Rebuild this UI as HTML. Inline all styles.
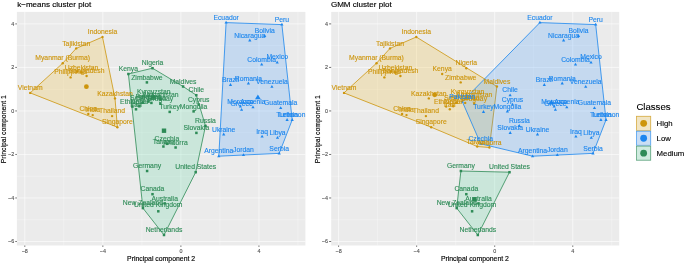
<!DOCTYPE html>
<html lang="en"><head><meta charset="utf-8"><title>Cluster plots</title>
<style>html,body{margin:0;padding:0;background:#fff}svg{display:block}</style></head>
<body>
<svg width="685" height="263" viewBox="0 0 685 263" font-family="'Liberation Sans', Arial, Helvetica, sans-serif">
<rect width="685" height="263" fill="#fff"/>
<g transform="translate(0,0)">
<text x="17.2" y="6.9" font-size="8.05" fill="#000" stroke="#000" stroke-width="0.15">k−means cluster plot</text>
<rect x="16.9" y="11.9" width="288.5" height="233.6" fill="#EBEBEB"/>
<clipPath id="cpa"><rect x="16.9" y="11.9" width="288.5" height="233.6"/></clipPath>
<g><path d="M63.83 11.9V245.5" stroke="#fff" stroke-width="0.3"/><path d="M141.88 11.9V245.5" stroke="#fff" stroke-width="0.3"/><path d="M219.93 11.9V245.5" stroke="#fff" stroke-width="0.3"/><path d="M297.98 11.9V245.5" stroke="#fff" stroke-width="0.3"/><path d="M16.9 45.66H305.4" stroke="#fff" stroke-width="0.3"/><path d="M16.9 89.18H305.4" stroke="#fff" stroke-width="0.3"/><path d="M16.9 132.70H305.4" stroke="#fff" stroke-width="0.3"/><path d="M16.9 176.22H305.4" stroke="#fff" stroke-width="0.3"/><path d="M16.9 219.74H305.4" stroke="#fff" stroke-width="0.3"/><path d="M24.80 11.9V245.5" stroke="#fff" stroke-width="0.6"/><path d="M102.85 11.9V245.5" stroke="#fff" stroke-width="0.6"/><path d="M180.90 11.9V245.5" stroke="#fff" stroke-width="0.6"/><path d="M258.95 11.9V245.5" stroke="#fff" stroke-width="0.6"/><path d="M16.9 23.90H305.4" stroke="#fff" stroke-width="0.6"/><path d="M16.9 67.42H305.4" stroke="#fff" stroke-width="0.6"/><path d="M16.9 110.94H305.4" stroke="#fff" stroke-width="0.6"/><path d="M16.9 154.46H305.4" stroke="#fff" stroke-width="0.6"/><path d="M16.9 197.98H305.4" stroke="#fff" stroke-width="0.6"/><path d="M16.9 241.50H305.4" stroke="#fff" stroke-width="0.6"/></g>
<g clip-path="url(#cpa)">
<path d="M30.2 92.9L62.7 63.2L76.2 48.4L102.5 37.0L115.0 98.4L117.4 127.2Z" fill="#F0B40F" fill-opacity="0.2" stroke="#CD950C" stroke-width="0.8" stroke-linejoin="round"/>
<path d="M128.4 74.0L152.5 68.2L183.1 86.5L196.3 95.2L205.5 125.9L195.7 172.2L164.0 235.0L142.9 208.1Z" fill="#46D296" fill-opacity="0.2" stroke="#2E8B57" stroke-width="0.8" stroke-linejoin="round"/>
<path d="M226.1 22.6L281.9 24.6L292.2 119.9L279.2 153.4L243.5 155.0L218.8 156.2Z" fill="#2D91FF" fill-opacity="0.2" stroke="#1C86EE" stroke-width="0.8" stroke-linejoin="round"/>
<circle cx="30.2" cy="92.9" r="1.2" fill="#CD950C"/>
<circle cx="62.7" cy="63.2" r="1.2" fill="#CD950C"/>
<circle cx="76.2" cy="48.4" r="1.2" fill="#CD950C"/>
<circle cx="102.5" cy="37.0" r="1.2" fill="#CD950C"/>
<circle cx="81.6" cy="72.4" r="1.2" fill="#CD950C"/>
<circle cx="77.4" cy="71.4" r="1.2" fill="#CD950C"/>
<circle cx="70.6" cy="77.4" r="1.2" fill="#CD950C"/>
<circle cx="86.6" cy="76.0" r="1.2" fill="#CD950C"/>
<circle cx="115.0" cy="98.4" r="1.2" fill="#CD950C"/>
<circle cx="88.3" cy="113.9" r="1.2" fill="#CD950C"/>
<circle cx="92.7" cy="115.1" r="1.2" fill="#CD950C"/>
<circle cx="112.1" cy="116.1" r="1.2" fill="#CD950C"/>
<circle cx="117.4" cy="127.2" r="1.2" fill="#CD950C"/>
<rect x="151.25" y="66.95" width="2.5" height="2.5" fill="#2E8B57"/>
<rect x="127.15" y="72.75" width="2.5" height="2.5" fill="#2E8B57"/>
<rect x="145.65" y="81.15" width="2.5" height="2.5" fill="#2E8B57"/>
<rect x="181.85" y="85.25" width="2.5" height="2.5" fill="#2E8B57"/>
<rect x="152.45" y="95.15" width="2.5" height="2.5" fill="#2E8B57"/>
<rect x="159.25" y="98.35" width="2.5" height="2.5" fill="#2E8B57"/>
<rect x="141.35" y="101.45" width="2.5" height="2.5" fill="#2E8B57"/>
<rect x="150.15" y="101.65" width="2.5" height="2.5" fill="#2E8B57"/>
<rect x="159.15" y="102.45" width="2.5" height="2.5" fill="#2E8B57"/>
<rect x="131.15" y="105.35" width="2.5" height="2.5" fill="#2E8B57"/>
<rect x="138.15" y="105.05" width="2.5" height="2.5" fill="#2E8B57"/>
<rect x="134.75" y="108.05" width="2.5" height="2.5" fill="#2E8B57"/>
<rect x="162.15" y="145.25" width="2.5" height="2.5" fill="#2E8B57"/>
<rect x="174.35" y="146.25" width="2.5" height="2.5" fill="#2E8B57"/>
<rect x="147.25" y="100.35" width="2.5" height="2.5" fill="#2E8B57"/>
<rect x="195.05" y="93.95" width="2.5" height="2.5" fill="#2E8B57"/>
<rect x="197.45" y="103.25" width="2.5" height="2.5" fill="#2E8B57"/>
<rect x="168.45" y="110.65" width="2.5" height="2.5" fill="#2E8B57"/>
<rect x="192.35" y="110.15" width="2.5" height="2.5" fill="#2E8B57"/>
<rect x="204.25" y="124.65" width="2.5" height="2.5" fill="#2E8B57"/>
<rect x="195.15" y="131.65" width="2.5" height="2.5" fill="#2E8B57"/>
<rect x="165.65" y="142.55" width="2.5" height="2.5" fill="#2E8B57"/>
<rect x="145.85" y="169.75" width="2.5" height="2.5" fill="#2E8B57"/>
<rect x="194.45" y="170.95" width="2.5" height="2.5" fill="#2E8B57"/>
<rect x="151.25" y="192.95" width="2.5" height="2.5" fill="#2E8B57"/>
<rect x="163.45" y="202.15" width="2.5" height="2.5" fill="#2E8B57"/>
<rect x="141.65" y="206.85" width="2.5" height="2.5" fill="#2E8B57"/>
<rect x="157.05" y="210.05" width="2.5" height="2.5" fill="#2E8B57"/>
<rect x="162.75" y="233.75" width="2.5" height="2.5" fill="#2E8B57"/>
<path d="M226.10 20.81L227.71 23.59L224.49 23.59Z" fill="#1C86EE"/>
<path d="M281.90 22.81L283.51 25.59L280.29 25.59Z" fill="#1C86EE"/>
<path d="M249.80 38.61L251.41 41.39L248.19 41.39Z" fill="#1C86EE"/>
<path d="M264.70 34.11L266.31 36.89L263.09 36.89Z" fill="#1C86EE"/>
<path d="M261.70 62.71L263.31 65.49L260.09 65.49Z" fill="#1C86EE"/>
<path d="M277.20 60.71L278.81 63.49L275.59 63.49Z" fill="#1C86EE"/>
<path d="M230.50 83.11L232.11 85.89L228.89 85.89Z" fill="#1C86EE"/>
<path d="M248.40 81.61L250.01 84.39L246.79 84.39Z" fill="#1C86EE"/>
<path d="M271.90 84.91L273.51 87.69L270.29 87.69Z" fill="#1C86EE"/>
<path d="M240.40 104.71L242.01 107.49L238.79 107.49Z" fill="#1C86EE"/>
<path d="M241.60 107.91L243.21 110.69L239.99 110.69Z" fill="#1C86EE"/>
<path d="M253.00 105.41L254.61 108.19L251.39 108.19Z" fill="#1C86EE"/>
<path d="M280.70 106.31L282.31 109.09L279.09 109.09Z" fill="#1C86EE"/>
<path d="M287.10 118.11L288.71 120.89L285.49 120.89Z" fill="#1C86EE"/>
<path d="M292.20 118.11L293.81 120.89L290.59 120.89Z" fill="#1C86EE"/>
<path d="M223.70 132.61L225.31 135.39L222.09 135.39Z" fill="#1C86EE"/>
<path d="M262.10 134.71L263.71 137.49L260.49 137.49Z" fill="#1C86EE"/>
<path d="M277.50 135.91L279.11 138.69L275.89 138.69Z" fill="#1C86EE"/>
<path d="M218.80 154.41L220.41 157.19L217.19 157.19Z" fill="#1C86EE"/>
<path d="M243.50 153.21L245.11 155.99L241.89 155.99Z" fill="#1C86EE"/>
<path d="M279.20 151.61L280.81 154.39L277.59 154.39Z" fill="#1C86EE"/>
<circle cx="86.4" cy="86.7" r="2.4" fill="#CD950C"/>
<rect x="161.80" y="128.50" width="4.4" height="4.4" fill="#2E8B57"/>
<path d="M257.90 94.42L260.77 99.37L255.03 99.37Z" fill="#1C86EE"/>
<g font-size="6.8" text-anchor="middle">
<text x="30.2" y="90.1" fill="#CD950C" stroke="#CD950C" stroke-width="0.12">Vietnam</text>
<text x="62.7" y="60.4" fill="#CD950C" stroke="#CD950C" stroke-width="0.12">Myanmar (Burma)</text>
<text x="76.2" y="45.6" fill="#CD950C" stroke="#CD950C" stroke-width="0.12">Tajikistan</text>
<text x="102.5" y="34.2" fill="#CD950C" stroke="#CD950C" stroke-width="0.12">Indonesia</text>
<text x="81.6" y="69.6" fill="#CD950C" stroke="#CD950C" stroke-width="0.12">Uzbekistan</text>
<text x="70.6" y="73.7" fill="#CD950C" stroke="#CD950C" stroke-width="0.12">Philippines</text>
<text x="86.6" y="73.2" fill="#CD950C" stroke="#CD950C" stroke-width="0.12">Bangladesh</text>
<text x="115.0" y="95.6" fill="#CD950C" stroke="#CD950C" stroke-width="0.12">Kazakhstan</text>
<text x="88.3" y="111.1" fill="#CD950C" stroke="#CD950C" stroke-width="0.12">China</text>
<text x="92.7" y="112.3" fill="#CD950C" stroke="#CD950C" stroke-width="0.12">India</text>
<text x="112.1" y="113.3" fill="#CD950C" stroke="#CD950C" stroke-width="0.12">Thailand</text>
<text x="117.4" y="124.4" fill="#CD950C" stroke="#CD950C" stroke-width="0.12">Singapore</text>
<text x="152.5" y="65.4" fill="#2E8B57" stroke="#2E8B57" stroke-width="0.12">Nigeria</text>
<text x="128.4" y="71.2" fill="#2E8B57" stroke="#2E8B57" stroke-width="0.12">Kenya</text>
<text x="146.9" y="79.6" fill="#2E8B57" stroke="#2E8B57" stroke-width="0.12">Zimbabwe</text>
<text x="183.1" y="83.7" fill="#2E8B57" stroke="#2E8B57" stroke-width="0.12">Maldives</text>
<text x="153.7" y="93.6" fill="#2E8B57" stroke="#2E8B57" stroke-width="0.12">Kyrgyzstan</text>
<text x="160.5" y="96.8" fill="#2E8B57" stroke="#2E8B57" stroke-width="0.12">Afghanistan</text>
<text x="142.6" y="99.9" fill="#2E8B57" stroke="#2E8B57" stroke-width="0.12">Senegal</text>
<text x="151.4" y="100.1" fill="#2E8B57" stroke="#2E8B57" stroke-width="0.12">Sri Lanka</text>
<text x="160.4" y="100.9" fill="#2E8B57" stroke="#2E8B57" stroke-width="0.12">Uruguay</text>
<text x="132.4" y="103.8" fill="#2E8B57" stroke="#2E8B57" stroke-width="0.12">Ethiopia</text>
<text x="139.4" y="103.5" fill="#2E8B57" stroke="#2E8B57" stroke-width="0.12">Nepal</text>
<text x="136.0" y="106.5" fill="#2E8B57" stroke="#2E8B57" stroke-width="0.12">Iran</text>
<text x="163.4" y="143.7" fill="#2E8B57" stroke="#2E8B57" stroke-width="0.12">Taiwan</text>
<text x="175.6" y="144.7" fill="#2E8B57" stroke="#2E8B57" stroke-width="0.12">Andorra</text>
<text x="148.5" y="98.8" fill="#2E8B57" stroke="#2E8B57" stroke-width="0.12">Pakistan</text>
<text x="196.3" y="92.4" fill="#2E8B57" stroke="#2E8B57" stroke-width="0.12">Chile</text>
<text x="198.7" y="101.7" fill="#2E8B57" stroke="#2E8B57" stroke-width="0.12">Cyprus</text>
<text x="169.7" y="109.1" fill="#2E8B57" stroke="#2E8B57" stroke-width="0.12">Turkey</text>
<text x="193.6" y="108.6" fill="#2E8B57" stroke="#2E8B57" stroke-width="0.12">Mongolia</text>
<text x="205.5" y="123.1" fill="#2E8B57" stroke="#2E8B57" stroke-width="0.12">Russia</text>
<text x="196.4" y="130.1" fill="#2E8B57" stroke="#2E8B57" stroke-width="0.12">Slovakia</text>
<text x="166.9" y="141.0" fill="#2E8B57" stroke="#2E8B57" stroke-width="0.12">Czechia</text>
<text x="147.1" y="168.2" fill="#2E8B57" stroke="#2E8B57" stroke-width="0.12">Germany</text>
<text x="195.7" y="169.4" fill="#2E8B57" stroke="#2E8B57" stroke-width="0.12">United States</text>
<text x="152.5" y="191.4" fill="#2E8B57" stroke="#2E8B57" stroke-width="0.12">Canada</text>
<text x="164.7" y="200.6" fill="#2E8B57" stroke="#2E8B57" stroke-width="0.12">Australia</text>
<text x="142.9" y="205.3" fill="#2E8B57" stroke="#2E8B57" stroke-width="0.12">New Zealand</text>
<text x="158.3" y="207.4" fill="#2E8B57" stroke="#2E8B57" stroke-width="0.12">United Kingdom</text>
<text x="164.0" y="232.2" fill="#2E8B57" stroke="#2E8B57" stroke-width="0.12">Netherlands</text>
<text x="226.1" y="19.8" fill="#1C86EE" stroke="#1C86EE" stroke-width="0.12">Ecuador</text>
<text x="281.9" y="21.8" fill="#1C86EE" stroke="#1C86EE" stroke-width="0.12">Peru</text>
<text x="249.8" y="37.6" fill="#1C86EE" stroke="#1C86EE" stroke-width="0.12">Nicaragua</text>
<text x="264.7" y="33.1" fill="#1C86EE" stroke="#1C86EE" stroke-width="0.12">Bolivia</text>
<text x="261.7" y="61.7" fill="#1C86EE" stroke="#1C86EE" stroke-width="0.12">Colombia</text>
<text x="277.2" y="59.0" fill="#1C86EE" stroke="#1C86EE" stroke-width="0.12">Mexico</text>
<text x="230.5" y="82.1" fill="#1C86EE" stroke="#1C86EE" stroke-width="0.12">Brazil</text>
<text x="248.4" y="80.6" fill="#1C86EE" stroke="#1C86EE" stroke-width="0.12">Romania</text>
<text x="271.9" y="83.9" fill="#1C86EE" stroke="#1C86EE" stroke-width="0.12">Venezuela</text>
<text x="240.4" y="103.7" fill="#1C86EE" stroke="#1C86EE" stroke-width="0.12">Morocco</text>
<text x="241.6" y="106.1" fill="#1C86EE" stroke="#1C86EE" stroke-width="0.12">Greece</text>
<text x="253.0" y="104.4" fill="#1C86EE" stroke="#1C86EE" stroke-width="0.12">Armenia</text>
<text x="280.7" y="105.3" fill="#1C86EE" stroke="#1C86EE" stroke-width="0.12">Guatemala</text>
<text x="287.1" y="117.1" fill="#1C86EE" stroke="#1C86EE" stroke-width="0.12">Tunisia</text>
<text x="292.2" y="117.1" fill="#1C86EE" stroke="#1C86EE" stroke-width="0.12">Lebanon</text>
<text x="223.7" y="131.6" fill="#1C86EE" stroke="#1C86EE" stroke-width="0.12">Ukraine</text>
<text x="262.1" y="133.7" fill="#1C86EE" stroke="#1C86EE" stroke-width="0.12">Iraq</text>
<text x="277.5" y="134.9" fill="#1C86EE" stroke="#1C86EE" stroke-width="0.12">Libya</text>
<text x="218.8" y="153.4" fill="#1C86EE" stroke="#1C86EE" stroke-width="0.12">Argentina</text>
<text x="243.5" y="152.2" fill="#1C86EE" stroke="#1C86EE" stroke-width="0.12">Jordan</text>
<text x="279.2" y="150.6" fill="#1C86EE" stroke="#1C86EE" stroke-width="0.12">Serbia</text>
</g></g>
<g font-size="5.4" fill="#4D4D4D" stroke="#4D4D4D" stroke-width="0.1">
<path d="M15.3 23.90H16.9" stroke="#333" stroke-width="0.7" stroke-opacity="1"/>
<text x="14.2" y="25.80" text-anchor="end">4</text>
<path d="M15.3 67.42H16.9" stroke="#333" stroke-width="0.7" stroke-opacity="1"/>
<text x="14.2" y="69.32" text-anchor="end">2</text>
<path d="M15.3 110.94H16.9" stroke="#333" stroke-width="0.7" stroke-opacity="1"/>
<text x="14.2" y="112.84" text-anchor="end">0</text>
<path d="M15.3 154.46H16.9" stroke="#333" stroke-width="0.7" stroke-opacity="1"/>
<text x="14.2" y="156.36" text-anchor="end">−2</text>
<path d="M15.3 197.98H16.9" stroke="#333" stroke-width="0.7" stroke-opacity="1"/>
<text x="14.2" y="199.88" text-anchor="end">−4</text>
<path d="M15.3 241.50H16.9" stroke="#333" stroke-width="0.7" stroke-opacity="1"/>
<text x="14.2" y="243.40" text-anchor="end">−6</text>
<path d="M24.80 245.5V246.9" stroke="#333" stroke-width="0.7" stroke-opacity="1"/>
<text x="24.80" y="252.8" text-anchor="middle">−8</text>
<path d="M102.85 245.5V246.9" stroke="#333" stroke-width="0.7" stroke-opacity="1"/>
<text x="102.85" y="252.8" text-anchor="middle">−4</text>
<path d="M180.90 245.5V246.9" stroke="#333" stroke-width="0.7" stroke-opacity="1"/>
<text x="180.90" y="252.8" text-anchor="middle">0</text>
<path d="M258.95 245.5V246.9" stroke="#333" stroke-width="0.7" stroke-opacity="1"/>
<text x="258.95" y="252.8" text-anchor="middle">4</text>
</g>
<text x="161.1" y="260.8" font-size="6.88" text-anchor="middle" fill="#000" stroke="#000" stroke-width="0.15">Principal component 2</text>
<text transform="translate(6.3,129.2) rotate(-90)" font-size="6.88" text-anchor="middle" fill="#000" stroke="#000" stroke-width="0.15">Principal component 1</text>
</g>
<g transform="translate(313.8,0)">
<text x="17.1" y="6.9" font-size="8.05" fill="#000" stroke="#000" stroke-width="0.15">GMM cluster plot</text>
<rect x="17.4" y="11.9" width="288.0" height="233.6" fill="#EBEBEB"/>
<clipPath id="cpb"><rect x="17.4" y="11.9" width="288.0" height="233.6"/></clipPath>
<g><path d="M63.83 11.9V245.5" stroke="#fff" stroke-width="0.3"/><path d="M141.88 11.9V245.5" stroke="#fff" stroke-width="0.3"/><path d="M219.93 11.9V245.5" stroke="#fff" stroke-width="0.3"/><path d="M297.98 11.9V245.5" stroke="#fff" stroke-width="0.3"/><path d="M17.4 45.66H305.4" stroke="#fff" stroke-width="0.3"/><path d="M17.4 89.18H305.4" stroke="#fff" stroke-width="0.3"/><path d="M17.4 132.70H305.4" stroke="#fff" stroke-width="0.3"/><path d="M17.4 176.22H305.4" stroke="#fff" stroke-width="0.3"/><path d="M17.4 219.74H305.4" stroke="#fff" stroke-width="0.3"/><path d="M24.80 11.9V245.5" stroke="#fff" stroke-width="0.6"/><path d="M102.85 11.9V245.5" stroke="#fff" stroke-width="0.6"/><path d="M180.90 11.9V245.5" stroke="#fff" stroke-width="0.6"/><path d="M258.95 11.9V245.5" stroke="#fff" stroke-width="0.6"/><path d="M17.4 23.90H305.4" stroke="#fff" stroke-width="0.6"/><path d="M17.4 67.42H305.4" stroke="#fff" stroke-width="0.6"/><path d="M17.4 110.94H305.4" stroke="#fff" stroke-width="0.6"/><path d="M17.4 154.46H305.4" stroke="#fff" stroke-width="0.6"/><path d="M17.4 197.98H305.4" stroke="#fff" stroke-width="0.6"/><path d="M17.4 241.50H305.4" stroke="#fff" stroke-width="0.6"/></g>
<g clip-path="url(#cpb)">
<path d="M30.2 92.9L62.7 63.2L76.2 48.4L102.5 37.0L183.1 86.5L175.6 147.5L163.4 146.5L117.4 127.2Z" fill="#F0B40F" fill-opacity="0.2" stroke="#CD950C" stroke-width="0.8" stroke-linejoin="round"/>
<path d="M148.5 101.6L226.1 22.6L281.9 24.6L292.2 119.9L279.2 153.4L218.8 156.2L166.9 143.8Z" fill="#2D91FF" fill-opacity="0.2" stroke="#1C86EE" stroke-width="0.8" stroke-linejoin="round"/>
<path d="M147.1 171.0L195.7 172.2L164.0 235.0L142.9 208.1Z" fill="#46D296" fill-opacity="0.2" stroke="#2E8B57" stroke-width="0.8" stroke-linejoin="round"/>
<circle cx="30.2" cy="92.9" r="1.2" fill="#CD950C"/>
<circle cx="62.7" cy="63.2" r="1.2" fill="#CD950C"/>
<circle cx="76.2" cy="48.4" r="1.2" fill="#CD950C"/>
<circle cx="102.5" cy="37.0" r="1.2" fill="#CD950C"/>
<circle cx="81.6" cy="72.4" r="1.2" fill="#CD950C"/>
<circle cx="77.4" cy="71.4" r="1.2" fill="#CD950C"/>
<circle cx="70.6" cy="77.4" r="1.2" fill="#CD950C"/>
<circle cx="86.6" cy="76.0" r="1.2" fill="#CD950C"/>
<circle cx="115.0" cy="98.4" r="1.2" fill="#CD950C"/>
<circle cx="88.3" cy="113.9" r="1.2" fill="#CD950C"/>
<circle cx="92.7" cy="115.1" r="1.2" fill="#CD950C"/>
<circle cx="112.1" cy="116.1" r="1.2" fill="#CD950C"/>
<circle cx="117.4" cy="127.2" r="1.2" fill="#CD950C"/>
<circle cx="152.5" cy="68.2" r="1.2" fill="#CD950C"/>
<circle cx="128.4" cy="74.0" r="1.2" fill="#CD950C"/>
<circle cx="146.9" cy="82.4" r="1.2" fill="#CD950C"/>
<circle cx="183.1" cy="86.5" r="1.2" fill="#CD950C"/>
<circle cx="153.7" cy="96.4" r="1.2" fill="#CD950C"/>
<circle cx="160.5" cy="99.6" r="1.2" fill="#CD950C"/>
<circle cx="142.6" cy="102.7" r="1.2" fill="#CD950C"/>
<circle cx="151.4" cy="102.9" r="1.2" fill="#CD950C"/>
<circle cx="160.4" cy="103.7" r="1.2" fill="#CD950C"/>
<circle cx="132.4" cy="106.6" r="1.2" fill="#CD950C"/>
<circle cx="139.4" cy="106.3" r="1.2" fill="#CD950C"/>
<circle cx="136.0" cy="109.3" r="1.2" fill="#CD950C"/>
<circle cx="163.4" cy="146.5" r="1.2" fill="#CD950C"/>
<circle cx="175.6" cy="147.5" r="1.2" fill="#CD950C"/>
<path d="M148.50 99.81L150.11 102.59L146.89 102.59Z" fill="#1C86EE"/>
<path d="M196.30 93.41L197.91 96.19L194.69 96.19Z" fill="#1C86EE"/>
<path d="M198.70 102.71L200.31 105.49L197.09 105.49Z" fill="#1C86EE"/>
<path d="M169.70 110.11L171.31 112.89L168.09 112.89Z" fill="#1C86EE"/>
<path d="M193.60 109.61L195.21 112.39L191.99 112.39Z" fill="#1C86EE"/>
<path d="M205.50 124.11L207.11 126.89L203.89 126.89Z" fill="#1C86EE"/>
<path d="M196.40 131.11L198.01 133.89L194.79 133.89Z" fill="#1C86EE"/>
<path d="M166.90 142.01L168.51 144.79L165.29 144.79Z" fill="#1C86EE"/>
<rect x="145.85" y="169.75" width="2.5" height="2.5" fill="#2E8B57"/>
<rect x="194.45" y="170.95" width="2.5" height="2.5" fill="#2E8B57"/>
<rect x="151.25" y="192.95" width="2.5" height="2.5" fill="#2E8B57"/>
<rect x="163.45" y="202.15" width="2.5" height="2.5" fill="#2E8B57"/>
<rect x="141.65" y="206.85" width="2.5" height="2.5" fill="#2E8B57"/>
<rect x="157.05" y="210.05" width="2.5" height="2.5" fill="#2E8B57"/>
<rect x="162.75" y="233.75" width="2.5" height="2.5" fill="#2E8B57"/>
<path d="M226.10 20.81L227.71 23.59L224.49 23.59Z" fill="#1C86EE"/>
<path d="M281.90 22.81L283.51 25.59L280.29 25.59Z" fill="#1C86EE"/>
<path d="M249.80 38.61L251.41 41.39L248.19 41.39Z" fill="#1C86EE"/>
<path d="M264.70 34.11L266.31 36.89L263.09 36.89Z" fill="#1C86EE"/>
<path d="M261.70 62.71L263.31 65.49L260.09 65.49Z" fill="#1C86EE"/>
<path d="M277.20 60.71L278.81 63.49L275.59 63.49Z" fill="#1C86EE"/>
<path d="M230.50 83.11L232.11 85.89L228.89 85.89Z" fill="#1C86EE"/>
<path d="M248.40 81.61L250.01 84.39L246.79 84.39Z" fill="#1C86EE"/>
<path d="M271.90 84.91L273.51 87.69L270.29 87.69Z" fill="#1C86EE"/>
<path d="M240.40 104.71L242.01 107.49L238.79 107.49Z" fill="#1C86EE"/>
<path d="M241.60 107.91L243.21 110.69L239.99 110.69Z" fill="#1C86EE"/>
<path d="M253.00 105.41L254.61 108.19L251.39 108.19Z" fill="#1C86EE"/>
<path d="M280.70 106.31L282.31 109.09L279.09 109.09Z" fill="#1C86EE"/>
<path d="M287.10 118.11L288.71 120.89L285.49 120.89Z" fill="#1C86EE"/>
<path d="M292.20 118.11L293.81 120.89L290.59 120.89Z" fill="#1C86EE"/>
<path d="M223.70 132.61L225.31 135.39L222.09 135.39Z" fill="#1C86EE"/>
<path d="M262.10 134.71L263.71 137.49L260.49 137.49Z" fill="#1C86EE"/>
<path d="M277.50 135.91L279.11 138.69L275.89 138.69Z" fill="#1C86EE"/>
<path d="M218.80 154.41L220.41 157.19L217.19 157.19Z" fill="#1C86EE"/>
<path d="M243.50 153.21L245.11 155.99L241.89 155.99Z" fill="#1C86EE"/>
<path d="M279.20 151.61L280.81 154.39L277.59 154.39Z" fill="#1C86EE"/>
<circle cx="120.9" cy="94.8" r="2.4" fill="#CD950C"/>
<path d="M237.60 99.62L240.47 104.57L234.73 104.57Z" fill="#1C86EE"/>
<rect x="158.50" y="197.10" width="4.4" height="4.4" fill="#2E8B57"/>
<g font-size="6.8" text-anchor="middle">
<text x="30.2" y="90.1" fill="#CD950C" stroke="#CD950C" stroke-width="0.12">Vietnam</text>
<text x="62.7" y="60.4" fill="#CD950C" stroke="#CD950C" stroke-width="0.12">Myanmar (Burma)</text>
<text x="76.2" y="45.6" fill="#CD950C" stroke="#CD950C" stroke-width="0.12">Tajikistan</text>
<text x="102.5" y="34.2" fill="#CD950C" stroke="#CD950C" stroke-width="0.12">Indonesia</text>
<text x="81.6" y="69.6" fill="#CD950C" stroke="#CD950C" stroke-width="0.12">Uzbekistan</text>
<text x="70.6" y="73.7" fill="#CD950C" stroke="#CD950C" stroke-width="0.12">Philippines</text>
<text x="86.6" y="73.2" fill="#CD950C" stroke="#CD950C" stroke-width="0.12">Bangladesh</text>
<text x="115.0" y="95.6" fill="#CD950C" stroke="#CD950C" stroke-width="0.12">Kazakhstan</text>
<text x="88.3" y="111.1" fill="#CD950C" stroke="#CD950C" stroke-width="0.12">China</text>
<text x="92.7" y="112.3" fill="#CD950C" stroke="#CD950C" stroke-width="0.12">India</text>
<text x="112.1" y="113.3" fill="#CD950C" stroke="#CD950C" stroke-width="0.12">Thailand</text>
<text x="117.4" y="124.4" fill="#CD950C" stroke="#CD950C" stroke-width="0.12">Singapore</text>
<text x="152.5" y="65.4" fill="#CD950C" stroke="#CD950C" stroke-width="0.12">Nigeria</text>
<text x="128.4" y="71.2" fill="#CD950C" stroke="#CD950C" stroke-width="0.12">Kenya</text>
<text x="146.9" y="79.6" fill="#CD950C" stroke="#CD950C" stroke-width="0.12">Zimbabwe</text>
<text x="183.1" y="83.7" fill="#CD950C" stroke="#CD950C" stroke-width="0.12">Maldives</text>
<text x="153.7" y="93.6" fill="#CD950C" stroke="#CD950C" stroke-width="0.12">Kyrgyzstan</text>
<text x="160.5" y="96.8" fill="#CD950C" stroke="#CD950C" stroke-width="0.12">Afghanistan</text>
<text x="142.6" y="99.9" fill="#CD950C" stroke="#CD950C" stroke-width="0.12">Senegal</text>
<text x="151.4" y="100.1" fill="#CD950C" stroke="#CD950C" stroke-width="0.12">Sri Lanka</text>
<text x="160.4" y="100.9" fill="#CD950C" stroke="#CD950C" stroke-width="0.12">Uruguay</text>
<text x="132.4" y="103.8" fill="#CD950C" stroke="#CD950C" stroke-width="0.12">Ethiopia</text>
<text x="139.4" y="103.5" fill="#CD950C" stroke="#CD950C" stroke-width="0.12">Nepal</text>
<text x="136.0" y="106.5" fill="#CD950C" stroke="#CD950C" stroke-width="0.12">Iran</text>
<text x="163.4" y="143.7" fill="#CD950C" stroke="#CD950C" stroke-width="0.12">Taiwan</text>
<text x="175.6" y="144.7" fill="#CD950C" stroke="#CD950C" stroke-width="0.12">Andorra</text>
<text x="148.5" y="98.8" fill="#1C86EE" stroke="#1C86EE" stroke-width="0.12">Pakistan</text>
<text x="196.3" y="92.4" fill="#1C86EE" stroke="#1C86EE" stroke-width="0.12">Chile</text>
<text x="198.7" y="101.7" fill="#1C86EE" stroke="#1C86EE" stroke-width="0.12">Cyprus</text>
<text x="169.7" y="109.1" fill="#1C86EE" stroke="#1C86EE" stroke-width="0.12">Turkey</text>
<text x="193.6" y="108.6" fill="#1C86EE" stroke="#1C86EE" stroke-width="0.12">Mongolia</text>
<text x="205.5" y="123.1" fill="#1C86EE" stroke="#1C86EE" stroke-width="0.12">Russia</text>
<text x="196.4" y="130.1" fill="#1C86EE" stroke="#1C86EE" stroke-width="0.12">Slovakia</text>
<text x="166.9" y="141.0" fill="#1C86EE" stroke="#1C86EE" stroke-width="0.12">Czechia</text>
<text x="147.1" y="168.2" fill="#2E8B57" stroke="#2E8B57" stroke-width="0.12">Germany</text>
<text x="195.7" y="169.4" fill="#2E8B57" stroke="#2E8B57" stroke-width="0.12">United States</text>
<text x="152.5" y="191.4" fill="#2E8B57" stroke="#2E8B57" stroke-width="0.12">Canada</text>
<text x="164.7" y="200.6" fill="#2E8B57" stroke="#2E8B57" stroke-width="0.12">Australia</text>
<text x="142.9" y="205.3" fill="#2E8B57" stroke="#2E8B57" stroke-width="0.12">New Zealand</text>
<text x="158.3" y="207.4" fill="#2E8B57" stroke="#2E8B57" stroke-width="0.12">United Kingdom</text>
<text x="164.0" y="232.2" fill="#2E8B57" stroke="#2E8B57" stroke-width="0.12">Netherlands</text>
<text x="226.1" y="19.8" fill="#1C86EE" stroke="#1C86EE" stroke-width="0.12">Ecuador</text>
<text x="281.9" y="21.8" fill="#1C86EE" stroke="#1C86EE" stroke-width="0.12">Peru</text>
<text x="249.8" y="37.6" fill="#1C86EE" stroke="#1C86EE" stroke-width="0.12">Nicaragua</text>
<text x="264.7" y="33.1" fill="#1C86EE" stroke="#1C86EE" stroke-width="0.12">Bolivia</text>
<text x="261.7" y="61.7" fill="#1C86EE" stroke="#1C86EE" stroke-width="0.12">Colombia</text>
<text x="277.2" y="59.0" fill="#1C86EE" stroke="#1C86EE" stroke-width="0.12">Mexico</text>
<text x="230.5" y="82.1" fill="#1C86EE" stroke="#1C86EE" stroke-width="0.12">Brazil</text>
<text x="248.4" y="80.6" fill="#1C86EE" stroke="#1C86EE" stroke-width="0.12">Romania</text>
<text x="271.9" y="83.9" fill="#1C86EE" stroke="#1C86EE" stroke-width="0.12">Venezuela</text>
<text x="240.4" y="103.7" fill="#1C86EE" stroke="#1C86EE" stroke-width="0.12">Morocco</text>
<text x="241.6" y="106.1" fill="#1C86EE" stroke="#1C86EE" stroke-width="0.12">Greece</text>
<text x="253.0" y="104.4" fill="#1C86EE" stroke="#1C86EE" stroke-width="0.12">Armenia</text>
<text x="280.7" y="105.3" fill="#1C86EE" stroke="#1C86EE" stroke-width="0.12">Guatemala</text>
<text x="287.1" y="117.1" fill="#1C86EE" stroke="#1C86EE" stroke-width="0.12">Tunisia</text>
<text x="292.2" y="117.1" fill="#1C86EE" stroke="#1C86EE" stroke-width="0.12">Lebanon</text>
<text x="223.7" y="131.6" fill="#1C86EE" stroke="#1C86EE" stroke-width="0.12">Ukraine</text>
<text x="262.1" y="133.7" fill="#1C86EE" stroke="#1C86EE" stroke-width="0.12">Iraq</text>
<text x="277.5" y="134.9" fill="#1C86EE" stroke="#1C86EE" stroke-width="0.12">Libya</text>
<text x="218.8" y="153.4" fill="#1C86EE" stroke="#1C86EE" stroke-width="0.12">Argentina</text>
<text x="243.5" y="152.2" fill="#1C86EE" stroke="#1C86EE" stroke-width="0.12">Jordan</text>
<text x="279.2" y="150.6" fill="#1C86EE" stroke="#1C86EE" stroke-width="0.12">Serbia</text>
</g></g>
<g font-size="5.4" fill="#4D4D4D" stroke="#4D4D4D" stroke-width="0.1">
<path d="M15.3 23.90H17.4" stroke="#333" stroke-width="0.7" stroke-opacity="1"/>
<text x="14.2" y="25.80" text-anchor="end">4</text>
<path d="M15.3 67.42H17.4" stroke="#333" stroke-width="0.7" stroke-opacity="1"/>
<text x="14.2" y="69.32" text-anchor="end">2</text>
<path d="M15.3 110.94H17.4" stroke="#333" stroke-width="0.7" stroke-opacity="1"/>
<text x="14.2" y="112.84" text-anchor="end">0</text>
<path d="M15.3 154.46H17.4" stroke="#333" stroke-width="0.7" stroke-opacity="1"/>
<text x="14.2" y="156.36" text-anchor="end">−2</text>
<path d="M15.3 197.98H17.4" stroke="#333" stroke-width="0.7" stroke-opacity="1"/>
<text x="14.2" y="199.88" text-anchor="end">−4</text>
<path d="M15.3 241.50H17.4" stroke="#333" stroke-width="0.7" stroke-opacity="1"/>
<text x="14.2" y="243.40" text-anchor="end">−6</text>
<path d="M24.80 245.5V246.9" stroke="#333" stroke-width="0.7" stroke-opacity="1"/>
<text x="24.80" y="252.8" text-anchor="middle">−8</text>
<path d="M102.85 245.5V246.9" stroke="#333" stroke-width="0.7" stroke-opacity="1"/>
<text x="102.85" y="252.8" text-anchor="middle">−4</text>
<path d="M180.90 245.5V246.9" stroke="#333" stroke-width="0.7" stroke-opacity="1"/>
<text x="180.90" y="252.8" text-anchor="middle">0</text>
<path d="M258.95 245.5V246.9" stroke="#333" stroke-width="0.7" stroke-opacity="1"/>
<text x="258.95" y="252.8" text-anchor="middle">4</text>
</g>
<text x="161.1" y="260.8" font-size="6.88" text-anchor="middle" fill="#000" stroke="#000" stroke-width="0.15">Principal component 2</text>
<text transform="translate(6.3,129.2) rotate(-90)" font-size="6.88" text-anchor="middle" fill="#000" stroke="#000" stroke-width="0.15">Principal component 1</text>
</g>
<g>
<text x="636.4" y="110" font-size="9.6" fill="#000" stroke="#000" stroke-width="0.12">Classes</text>
<rect x="636.2" y="115.90" width="14.9" height="14.9" fill="#F2F2F2"/>
<rect x="636.6" y="116.30" width="14.1" height="14.1" fill="#F0B40F" fill-opacity="0.2" stroke="#CD950C" stroke-opacity="0.75" stroke-width="0.8"/>
<circle cx="643.65" cy="123.35" r="3.4" fill="#CD950C"/>
<text x="656.6" y="126.15" font-size="7.8" fill="#000" stroke="#000" stroke-width="0.12">High</text>
<rect x="636.2" y="130.80" width="14.9" height="14.9" fill="#F2F2F2"/>
<rect x="636.6" y="131.20" width="14.1" height="14.1" fill="#2D91FF" fill-opacity="0.2" stroke="#1C86EE" stroke-opacity="0.75" stroke-width="0.8"/>
<circle cx="643.65" cy="138.25" r="3.4" fill="#1C86EE"/>
<text x="656.6" y="141.05" font-size="7.8" fill="#000" stroke="#000" stroke-width="0.12">Low</text>
<rect x="636.2" y="145.70" width="14.9" height="14.9" fill="#F2F2F2"/>
<rect x="636.6" y="146.10" width="14.1" height="14.1" fill="#46D296" fill-opacity="0.2" stroke="#2E8B57" stroke-opacity="0.75" stroke-width="0.8"/>
<circle cx="643.65" cy="153.15" r="3.4" fill="#2E8B57"/>
<text x="656.6" y="155.95" font-size="7.8" fill="#000" stroke="#000" stroke-width="0.12">Medium</text>
</g>
</svg>
</body></html>
